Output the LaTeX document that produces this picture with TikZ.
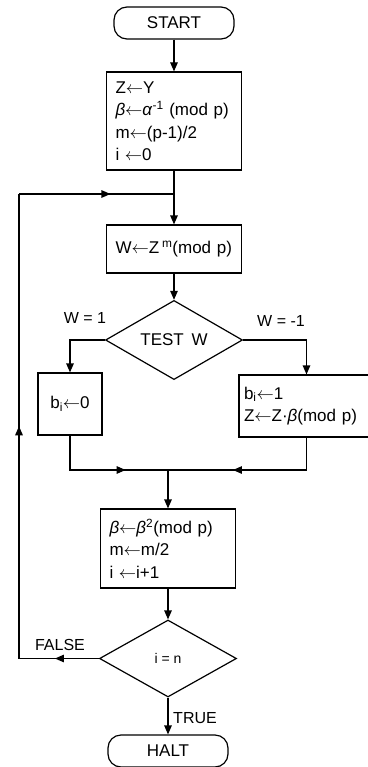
\documentclass[tikz,border=0pt]{standalone}
\usepackage{fontspec}
\setmainfont{Liberation Sans}
\usetikzlibrary{arrows.meta,positioning,shapes.geometric,decorations.markings}
\newcommand{\getsarr}{\ensuremath{\leftarrow}}

\begin{document}
\begin{tikzpicture}[
  x=1pt,y=-1pt,
  font=\fontsize{17}{22.5}\selectfont,
  line width=1.2pt,
  term/.style={draw,rounded corners=13pt,minimum width=120pt,minimum height=32pt,inner sep=0pt},
  box/.style={draw,align=left,text width=117pt,inner xsep=9pt,inner ysep=0pt,minimum width=135pt},
  decision/.style={draw,diamond,minimum width=137pt,minimum height=77pt,inner sep=0pt},
  lbl/.style={font=\fontsize{16}{18}\selectfont,inner sep=0pt},
  arr/.style={-{Triangle[length=9pt,width=7.5pt]}},
  midarr/.style={postaction=decorate,decoration={markings,
      mark=at position #1 with {\arrow{Triangle[length=9pt,width=7.5pt]}}}},
  midarr/.default=0.5
]
\useasboundingbox (0,0) rectangle (367,767);

% main column
\node[term] (start) at (174,23) {START};
\node[box,minimum height=98pt] (init) at (174,121)
  {Z\getsarr Y\\ \textit{β}\getsarr\textit{α}\textsuperscript{-1} (mod p)\\ m\getsarr(p-1)/2\\ i \getsarr0};
\node[box,minimum height=48pt] (pow) at (174,249) {W\getsarr Z\,\textsuperscript{m}(mod p)};
\node[decision] (test) at (174,340) {TEST\hspace{0.45em}W};

% branches
\node[draw,minimum width=64pt,minimum height=62pt] (bzero) at (70,404) {b\textsubscript{i}\getsarr0};
\node[box,text width=125pt,inner xsep=5pt,minimum height=62pt] (bone) at (306.5,406)
  {b\textsubscript{i}\getsarr1\\ Z\getsarr Z·\textit{β}(mod p)};
\coordinate (merge) at (168,470);

\node[box,minimum height=79pt] (upd) at (168,548.5)
  {\textit{β}\getsarr\textit{β}\textsuperscript{2}(mod p)\\ m\getsarr m/2\\ i \getsarr i+1};
\node[decision] (check) at (168,658.5) {\fontsize{14}{16}\selectfont i = n};
\node[term] (halt) at (168,751) {HALT};

% labels
\node[lbl] (wone) at (85,318) {W = 1};
\node[lbl] (wmone) at (281,321) {W = -1};
\node[lbl] (false) at (60,645) {FALSE};
\node[lbl] (true) at (195,718) {TRUE};

% loop back
\coordinate (loopbot) at (19,658.5);
\coordinate (looptop) at (19,194);
\coordinate (join) at (174,194);

\draw[arr] (start) -- (init);
\draw[arr] (init) -- (pow);
\draw[arr] (pow) -- (test);
\draw[arr] (test.west) -| (bzero.north);
\draw[arr] (test.east) -| (bone.north);
\draw[midarr=0.68] (bzero.south) |- (merge);
\draw[midarr=0.62] (bone.south) |- (merge);
\draw[arr] (merge) -- (upd);
\draw[arr] (upd) -- (check);
\draw[arr] (check) -- (halt);
\draw[midarr=0.55] (check.west) -- (loopbot);
\draw[midarr] (loopbot) -- (looptop);
\draw[midarr=0.59] (looptop) -- (join);
\end{tikzpicture}
\end{document}
